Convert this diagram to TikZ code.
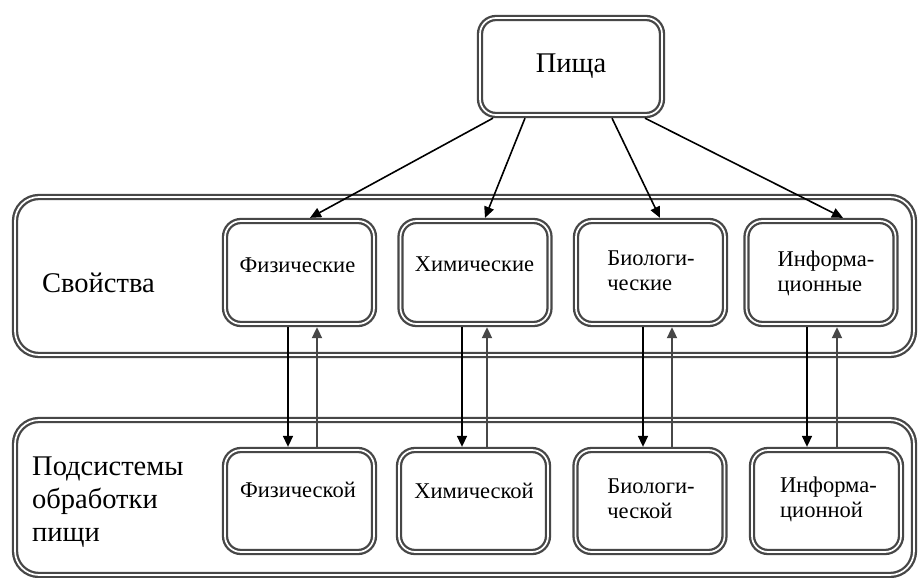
\documentclass[tikz,border=0pt]{standalone}
\usepackage{fontspec}
\setmainfont{Liberation Serif}
\usetikzlibrary{arrows.meta}
\begin{document}
\begin{tikzpicture}[x=1pt,y=-1pt,
  dbox/.style={draw=black!72, double=white, line width=2.3pt, double distance=1.7pt,
    rounded corners=#1, outer sep=3.15pt, inner sep=0pt, fill=white},
  dbox/.default=16pt,
  cell/.style={dbox, minimum width=149pt, minimum height=103pt},
  big/.style={font=\fontsize{28.5}{33}\selectfont, inner sep=0pt},
  small/.style={font=\fontsize{22.5}{25}\selectfont, inner sep=0pt, align=left},
  arr/.style={draw=black, line width=1.6pt, -{Triangle[length=11pt,width=10pt]}},
  uparr/.style={draw=black!72, line width=1.8pt, -{Triangle[length=11pt,width=10pt]}}
]
% canvas
\fill[white] (0,0) rectangle (919,578);
\useasboundingbox (0,0) rectangle (919,578);

% containers
\node[dbox=24pt, minimum width=899pt, minimum height=158pt] (props) at (464.5,276) {};
\node[dbox=24pt, minimum width=899pt, minimum height=155pt] (subs) at (464.5,497.5) {};
\node[big, anchor=base west] (propslbl) at (42,292) {Свойства};
\node[big, anchor=base west, align=left] (subslbl) at (32,541) {Подсистемы\\обработки\\пищи};

% root
\node[dbox=16pt, minimum width=182pt, minimum height=97pt, big] (food) at (571,66.5) {Пища};

% properties
\node[cell] (fiz1) at (299.5,272.5) {};
\node[cell] (chem1) at (475,272.5) {};
\node[cell] (bio1) at (650.5,272.5) {};
\node[cell] (info1) at (821,272.5) {};

% processing subsystems
\node[cell, minimum height=102pt] (fiz2) at (299.5,501) {};
\node[cell, minimum height=102pt] (chem2) at (473.5,501) {};
\node[cell, minimum height=102pt] (bio2) at (650,501) {};
\node[cell, minimum height=102pt] (info2) at (826.5,501) {};

% labels (base = baseline of the last line)
\node[small, anchor=base] (fiz1t) at (297.5,272) {Физические};
\node[small, anchor=base] (chem1t) at (474.5,271) {Химические};
\node[small, anchor=base] (bio1t) at (651,290) {Биологи-\\ческие};
\node[small, anchor=base] (info1t) at (826,291) {Информа-\\ционные};
\node[small, anchor=base] (fiz2t) at (298,497) {Физической};
\node[small, anchor=base] (chem2t) at (474,498) {Химической};
\node[small, anchor=base] (bio2t) at (651,518) {Биологи-\\ческой};
\node[small, anchor=base] (info2t) at (828.5,517) {Информа-\\ционной};

% root to properties
\draw[arr] ([xshift=-78pt]food.south) -- ([xshift=10.5pt]fiz1.north);
\draw[arr] ([xshift=-46pt]food.south) -- ([xshift=10pt]chem1.north);
\draw[arr] ([xshift=41pt]food.south) -- ([xshift=9.5pt]bio1.north);
\draw[arr] ([xshift=74pt]food.south) -- ([xshift=22pt]info1.north);

% property <-> subsystem links
\draw[arr] ([xshift=-11.5pt]fiz1.south) -- ([xshift=-11.5pt]fiz2.north);
\draw[uparr] ([xshift=17.5pt]fiz2.north) -- ([xshift=17.5pt]fiz1.south);
\draw[arr] ([xshift=-13pt]chem1.south) -- ([xshift=-11.5pt]chem2.north);
\draw[uparr] ([xshift=13.5pt]chem2.north) -- ([xshift=12pt]chem1.south);
\draw[arr] ([xshift=-7.5pt]bio1.south) -- ([xshift=-7pt]bio2.north);
\draw[uparr] ([xshift=22pt]bio2.north) -- ([xshift=21.5pt]bio1.south);
\draw[arr] ([xshift=-14pt]info1.south) -- ([xshift=-19.5pt]info2.north);
\draw[uparr] ([xshift=10.5pt]info2.north) -- ([xshift=16pt]info1.south);
\end{tikzpicture}
\end{document}
